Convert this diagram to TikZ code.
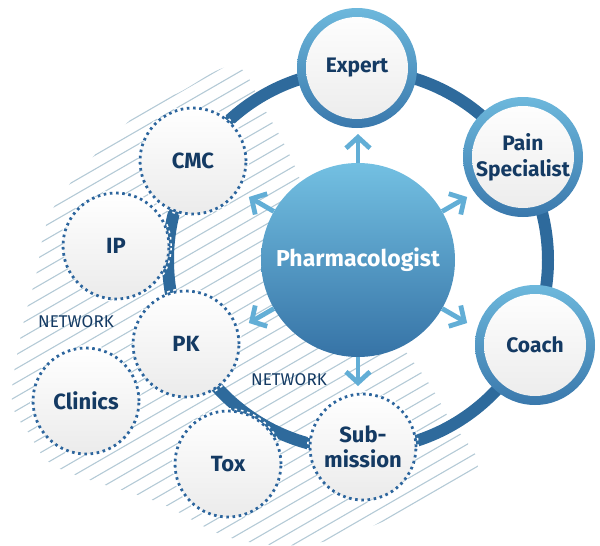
\documentclass[tikz,border=0pt]{standalone}
\usepackage{fontspec}
\setmainfont{Fira Sans}
\usetikzlibrary{arrows.meta,calc}
\definecolor{pcInk}{HTML}{143A63}
\definecolor{pcRing}{HTML}{2E6A9C}
\definecolor{pcDot}{HTML}{2C659D}
\definecolor{pcSky}{HTML}{62AED6}
\definecolor{pcTop}{HTML}{73C0E2}
\definecolor{pcDeep}{HTML}{3673A6}
\definecolor{pcRimTop}{HTML}{6DB8DC}
\definecolor{pcRimBot}{HTML}{3A78AC}
\definecolor{pcHatch}{HTML}{B4CAD6}
\definecolor{pcPaper}{HTML}{EBEBEB}
\tikzset{
 web/.style={line cap=butt,text=pcInk},
 hatch/.style={draw=pcHatch,line width=1.1pt},
 ringline/.style={draw=pcRing,line width=12pt},
 hub/.style={circle,minimum size=194pt,inner sep=0pt,top color=pcTop,bottom color=pcDeep,
   text=white,font=\fontsize{23}{26}\selectfont\bfseries},
 role/.style={circle,minimum size=120pt,inner sep=0pt,top color=pcRimTop,bottom color=pcRimBot,
   align=center,font=\fontsize{21}{26}\selectfont\bfseries,
   path picture={\shade[top color=white,bottom color=pcPaper] (path picture bounding box.center) circle (51pt);}},
 partner/.style={circle,minimum size=106pt,inner sep=0pt,top color=white,bottom color=pcPaper,
   align=center,draw=pcDot,line width=2.8pt,dash pattern=on 2.6pt off 3.6pt,
   preaction={draw=white,line width=6pt},font=\fontsize{22}{25}\selectfont\bfseries},
 spoke/.style={draw=pcSky,line width=4.8pt,-{Straight Barb[length=11pt,width=24pt]}},
 netlabel/.style={font=\fontsize{17}{19}\selectfont,text=pcInk}
}
\begin{document}
\begin{tikzpicture}[web,x=1pt,y=1pt]
 \useasboundingbox (0,0) rectangle (600,-546);
 % hatched backdrop
 \begin{scope}
  \clip plot[smooth cycle,tension=.6] coordinates {(12,-400) (22,-330) (35,-280) (55,-205)
    (128,-122) (180,-92) (235,-66) (262,-105) (292,-160) (330,-250) (403,-348) (430,-385)
    (450,-420) (478,-462) (455,-485) (370,-527) (300,-545) (228,-537) (160,-503) (90,-480)
    (50,-463) (30,-435)};
  \foreach \b in {-840,-826,...,-40}{\draw[hatch] (0,\b) -- (520,\b+300.2);}
 \end{scope}
 \node[hub] (pharm) at (358,-260) {Pharmacologist};
 \draw[ringline] (pharm.center) circle (190pt);
 \node[role] (expert) at (357,-68) {Expert};
 \node[role] (pain) at (523,-157) {Pain\\Specialist};
 \node[role] (coach) at (535,-345) {Coach};
 \node[partner] (submission) at (363,-447) {Sub-\\mission};
 \node[partner] (tox) at (228,-464) {Tox};
 \node[partner] (clinics) at (86,-401) {Clinics};
 \node[partner] (pk) at (186,-344) {PK};
 \node[partner] (ip) at (116,-246) {IP};
 \node[partner] (cmc) at (193,-161) {CMC};
 \foreach \a [count=\i] in {90,30,-30,-90,210,150}{
  \coordinate (tip\i) at ($(pharm.center)+(\a:126)$);
  \draw[spoke] (pharm.\a) -- (tip\i);}
 \node[netlabel] (netA) at (76,-322) {NETWORK};
 \node[netlabel] (netB) at (289,-380) {NETWORK};
\end{tikzpicture}
\end{document}
